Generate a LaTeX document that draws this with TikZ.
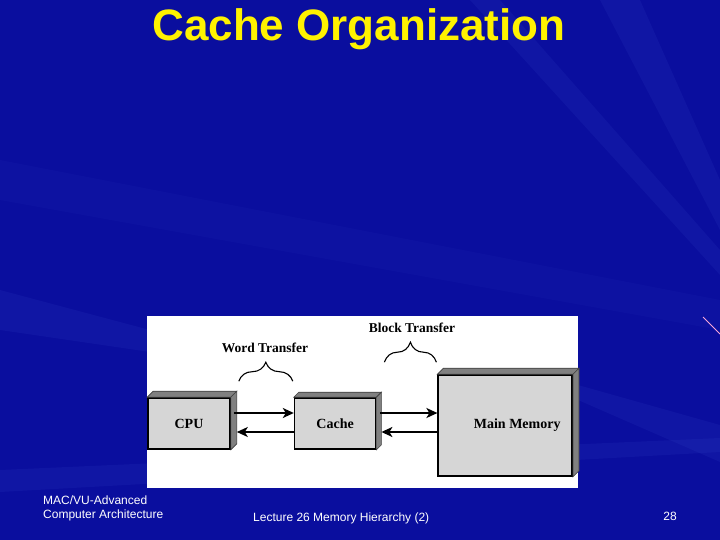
\documentclass[tikz,border=0pt]{standalone}
\usepackage{fontspec}
\setmainfont{Liberation Serif}
\setsansfont{Liberation Sans}
\usetikzlibrary{positioning,arrows.meta,calc,decorations.pathreplacing}

\definecolor{slideblue}{RGB}{10,14,158}
\definecolor{streak}{RGB}{80,105,225}
\definecolor{boxfront}{RGB}{214,214,214}
\definecolor{boxdepth}{RGB}{128,128,128}

\begin{document}
\begin{tikzpicture}[
  x=1pt, y=-1pt,
  font=\bfseries\fontsize{14}{16}\selectfont,
  unit/.style={draw, line width=1.6pt, fill=boxfront, inner sep=0pt},
  depth/.style={fill=boxdepth, draw=black!75, line width=0.6pt},
  lbl/.style={font=\bfseries\fontsize{13.5}{15}\selectfont, inner sep=1pt},
  link/.style={line width=1.8pt, -{Stealth[length=11pt,width=10pt,inset=3pt]}},
  curly/.style={decorate, decoration={brace, amplitude=#1}, line width=1.1pt},
  foot/.style={font=\sffamily\fontsize{12}{14}\selectfont, text=white,
    align=left, inner sep=0pt},
  ray/.style={fill=streak, fill opacity=0.09}
]
  \useasboundingbox (0,0) rectangle (720,540);
  \clip (0,0) rectangle (720,540);

  % slide background
  \fill[slideblue] (0,0) rectangle (720,540);
  \fill[ray] (578,385) -- (720,425) -- (720,462) -- (578,400) -- cycle;
  \fill[ray] (0,470) -- (720,438) -- (720,452) -- (0,492) -- cycle;
  \fill[ray] (0,290) -- (150,330) -- (150,352) -- (0,330) -- cycle;
  \fill[ray] (600,0) -- (640,0) -- (720,180) -- (720,230) -- cycle;
  \fill[ray] (470,0) -- (500,0) -- (720,250) -- (720,275) -- cycle;
  \fill[ray, fill opacity=0.05] (0,160) -- (720,300) -- (720,330) -- (0,200) -- cycle;
  \draw[magenta!35!white, line width=0.8pt] (703,317) -- (720,334);

  \node[font=\sffamily\bfseries\fontsize{44}{50}\selectfont, text=yellow,
        anchor=base] (title) at (359,41) {Cache Organization};

  % diagram panel
  \fill[white] (147,316) rectangle (578,488);

  \node[unit, minimum width=82pt, minimum height=51pt] (cpu) at (189,423.5) {CPU};
  \node[unit, minimum width=81pt, minimum height=51pt, right=63pt of cpu] (cache) {Cache};
  \node[unit, minimum width=134pt, minimum height=101pt, right=61pt of cache,
        yshift=-2pt, label={[xshift=12pt]center:Main Memory}] (mem) {};

  \foreach \n/\d in {cpu/6,cache/5,mem/6} {
    \filldraw[depth] (\n.north west) -- ++(\d,-\d) -- ($(\n.north east)+(\d,-\d)$)
      -- (\n.north east) -- cycle;
    \filldraw[depth] (\n.north east) -- ++(\d,-\d) -- ($(\n.south east)+(\d,-\d)$)
      -- (\n.south east) -- cycle;
  }

  \draw[link] ([yshift=10.5pt]cpu.east) ++(3,0) -- ([yshift=10.5pt]cache.west);
  \draw[link] ([yshift=-8.5pt]cache.west) -- ([xshift=6pt,yshift=-8.5pt]cpu.east);
  \draw[link] ([yshift=10.5pt]cache.east) ++(4,0) -- ([yshift=12.5pt]mem.west);
  \draw[link] ([yshift=-6.5pt]mem.west) -- ([xshift=5pt,yshift=-8.5pt]cache.east);

  \coordinate (wordL) at ([xshift=8pt,yshift=16pt]cpu.north east);
  \coordinate (wordR) at ([xshift=-1pt,yshift=16pt]cache.north west);
  \coordinate (blockL) at ([xshift=8pt,yshift=35pt]cache.north east);
  \coordinate (blockR) at ([xshift=-1pt,yshift=12pt]mem.north west);
  \draw[curly=19pt] (wordL) -- (wordR);
  \draw[curly=20pt] (blockL) -- (blockR);

  \node[lbl] (word) at (265,348) {Word Transfer};
  \node[lbl] (block) at (412,328) {Block Transfer};

  % footer
  \node[foot, anchor=north west] (course) at (43,496)
    {MAC/VU-Advanced\\Computer Architecture};
  \node[foot, anchor=base west] (lecture) at (253,521) {Lecture 26 Memory Hierarchy (2)};
  \node[foot, anchor=base east] (page) at (677,520) {28};
\end{tikzpicture}
\end{document}
